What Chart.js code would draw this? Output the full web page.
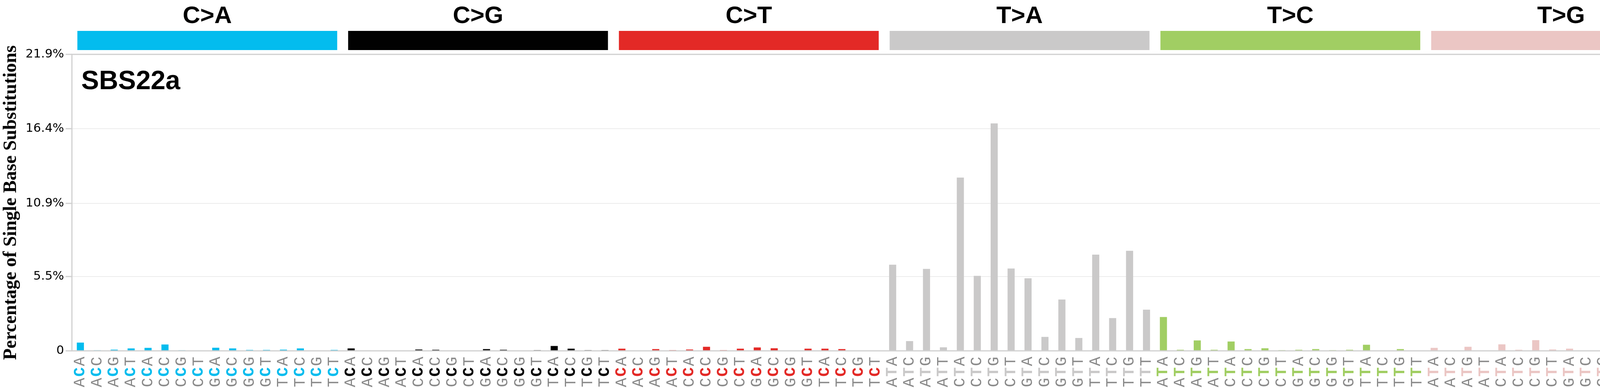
<!DOCTYPE html>
<html><head><meta charset="utf-8">
<script src="https://cdn.jsdelivr.net/npm/chart.js@4"></script>
<style>html,body{margin:0;padding:0;background:#fff;overflow:hidden}#w{position:relative;width:4393px;height:992px}#c{display:block;width:4393px;height:992px}</style>
</head><body><div id="w"><canvas id="c"></canvas></div>
<script>
const mutationTypes = ["C>A","C>G","C>T","T>A","T>C","T>G"];
const typeColors = ["#03BCEE","#010101","#E32926","#CAC9C9","#A1CE63","#EBC6C4"];
const contexts = ["ACA","ACC","ACG","ACT","CCA","CCC","CCG","CCT","GCA","GCC","GCG","GCT","TCA","TCC","TCG","TCT"];
const valuesCA = [0.61,0.04,0.09,0.18,0.22,0.47,0.04,0.03,0.23,0.18,0.07,0.07,0.09,0.18,0.00,0.07];
const valuesCG = [0.18,0.03,0.03,0.00,0.10,0.08,0.02,0.02,0.13,0.08,0.02,0.05,0.36,0.16,0.05,0.05];
const valuesCT = [0.16,0.02,0.13,0.05,0.10,0.30,0.05,0.16,0.25,0.19,0.00,0.16,0.16,0.13,0.00,0.00];
const valuesTA = [6.36,0.72,6.05,0.26,12.8,5.54,16.8,6.08,5.36,1.03,3.79,0.95,7.11,2.42,7.39,3.04];
const valuesTC = [2.50,0.08,0.77,0.08,0.69,0.13,0.19,0.05,0.08,0.13,0.05,0.08,0.45,0.00,0.13,0.00];
const valuesTG = [0.22,0.00,0.30,0.00,0.48,0.08,0.79,0.10,0.16,0.02,0.05,0.00,0.51,0.08,0.57,0.05];
const yTicks = [0,5.5,10.9,16.4,21.9];
const yTickLabels = ["0","5.5%","10.9%","16.4%","21.9%"];
const signatureName = "SBS22a";

const allVals=[valuesCA,valuesCG,valuesCT,valuesTA,valuesTC,valuesTG];
const labels=[],data=[],colors=[],midBase=[];
mutationTypes.forEach((t,i)=>{contexts.forEach((c,j)=>{
  const mid=t[0]==="C"?"C":"T";
  labels.push(c[0]+mid+c[2]);data.push(allVals[i][j]);colors.push(typeColors[i]);midBase.push(i);
});});

const deco={id:'deco',
 afterDraw(ch){
  const g=ch.ctx,x=ch.scales.x,a=ch.chartArea;
  const step=x.getPixelForValue(1)-x.getPixelForValue(0);
  mutationTypes.forEach((t,i)=>{
    const l=x.getPixelForValue(i*16)-step/2+14, r=x.getPixelForValue(i*16+15)+step/2-14;
    g.fillStyle=typeColors[i];g.fillRect(l,79,r-l,49);
    g.fillStyle="#000";g.font="bold 62px 'Liberation Sans', Arial";g.textAlign="center";g.textBaseline="middle";
    g.fillText(t,(l+r)/2,42);
  });
  g.strokeStyle="#d0d0d0";g.lineWidth=3;g.strokeRect(a.left,a.top,a.right-a.left,a.bottom-a.top);
  g.fillStyle="#000";g.font="bold 68px 'Liberation Sans', Arial";g.textAlign="left";g.textBaseline="middle";
  g.fillText(signatureName,a.left+24,a.top+70);
  labels.forEach((lb,k)=>{
    const px=x.getPixelForValue(k);
    g.save();g.translate(px,990);g.rotate(-Math.PI/2);g.textBaseline="middle";g.textAlign="left";
    let off=0;
    for(let q=0;q<3;q++){
      if(q===1){g.font="bold 40px 'Liberation Mono', monospace";g.fillStyle=typeColors[midBase[k]];}
      else{g.font="40px 'Liberation Mono', monospace";g.fillStyle="#8a8a8a";}
      g.fillText(lb[q],off,0);off+=27;
    }
    g.restore();
  });
 }};

new Chart(document.getElementById('c'),{type:'bar',
 data:{labels,datasets:[{data,backgroundColor:colors,barPercentage:0.42,categoryPercentage:1}]},
 options:{responsive:true,maintainAspectRatio:false,animation:false,devicePixelRatio:1,
  layout:{padding:{top:139,right:50,bottom:87,left:0}},
  plugins:{legend:{display:false},tooltip:{enabled:false}},
  scales:{
   x:{ticks:{display:false},grid:{display:false},border:{display:false}},
   y:{min:0,max:21.9,afterBuildTicks(s){s.ticks=yTicks.map(v=>({value:v}));},
      ticks:{callback:(v,i)=>yTickLabels[i],font:{size:31,family:"'DejaVu Sans'"},color:"#000",padding:4},
      grid:{color:"#ececec",lineWidth:2,tickLength:16,tickColor:"#d0d0d0",tickWidth:3},border:{display:false},
      title:{display:true,text:"Percentage of Single Base Substitutions",font:{size:48,weight:'bold',family:"'Liberation Serif', 'Times New Roman'"},color:"#000",padding:{top:0,bottom:4}}}
  }},
 plugins:[deco]});
</script></body></html>
